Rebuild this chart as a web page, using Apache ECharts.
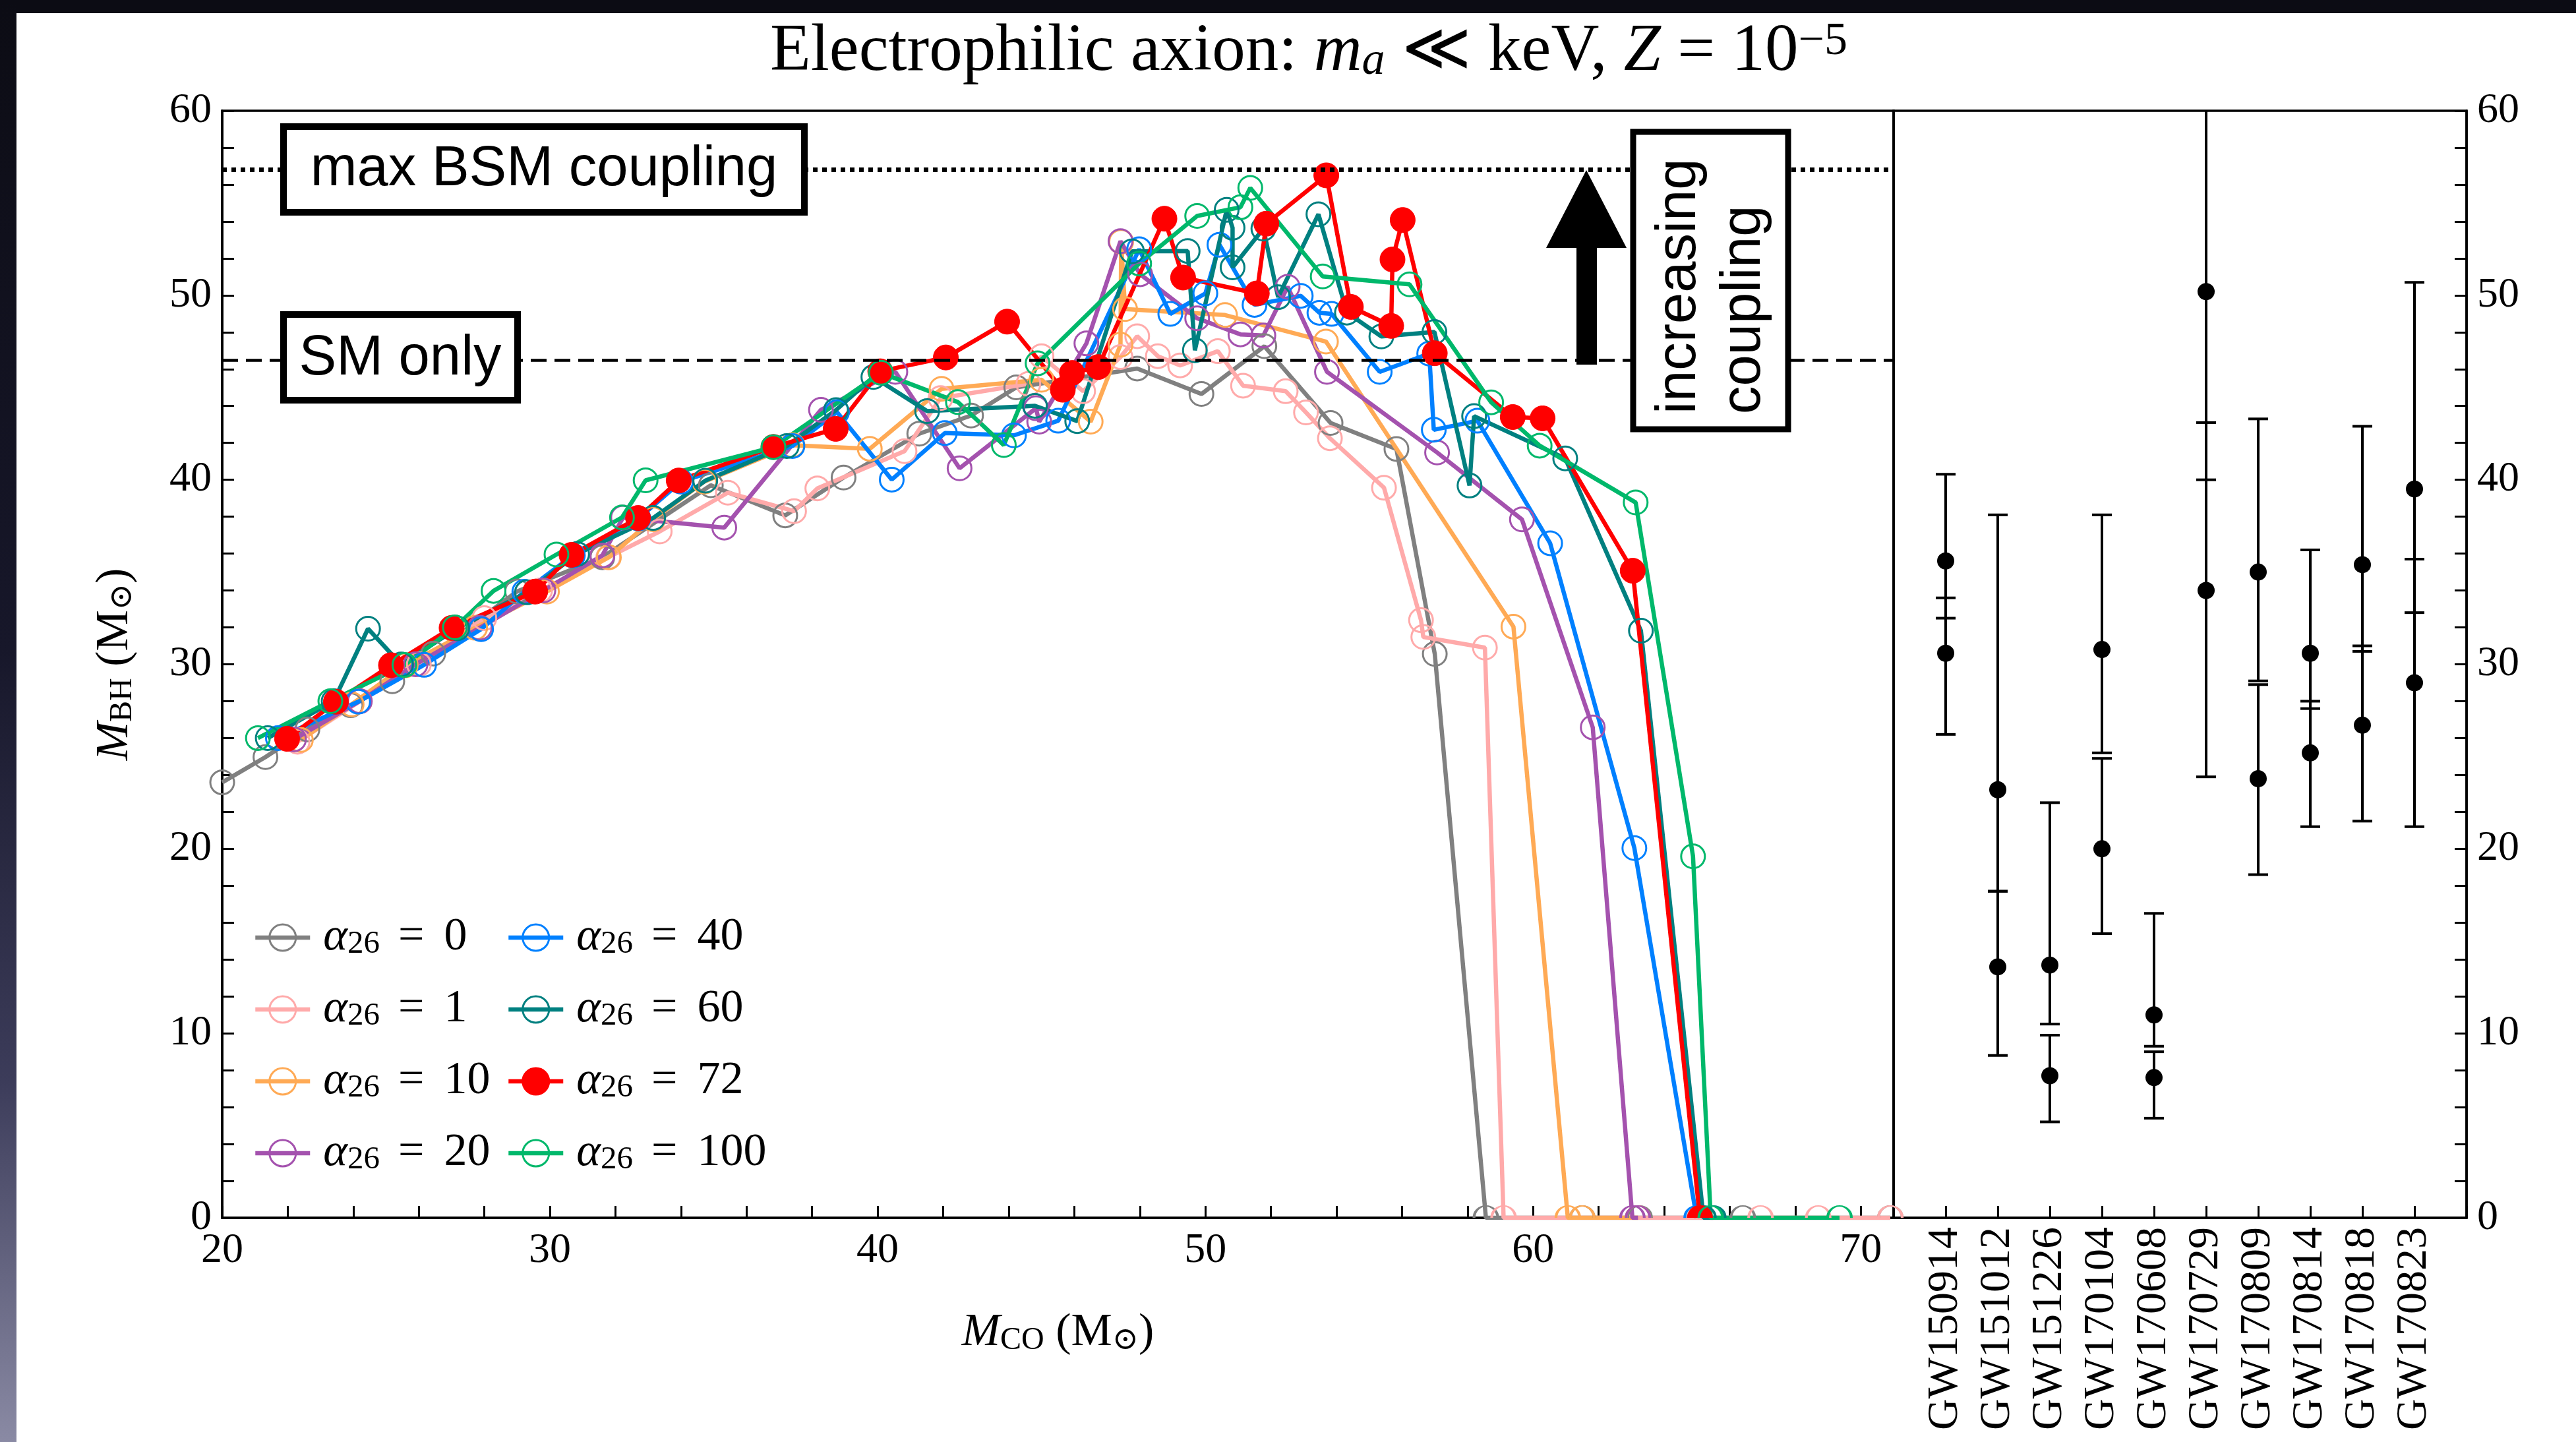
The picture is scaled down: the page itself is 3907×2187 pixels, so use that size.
<!DOCTYPE html>
<html>
<head>
<meta charset="utf-8">
<title>Electrophilic axion: black-hole mass gap</title>
<script src="https://cdn.jsdelivr.net/npm/echarts/dist/echarts.min.js"></script>
<style>
  html, body { margin: 0; padding: 0; background: #ffffff; overflow: hidden; }
  #chart { position: absolute; left: 0; top: 0; width: 3907px; height: 2187px; background: #ffffff; }
  #frameTop { position: absolute; left: 0; top: 0; width: 3907px; height: 20px; background: #0c0c14; z-index: 10; }
  #frameLeft { position: absolute; left: 0; top: 0; width: 25px; height: 2187px; z-index: 10;
    background: linear-gradient(to bottom, #0c0c14 0%, #17172a 45%, #3c3c5a 75%, #8a8aa4 100%); }
</style>
</head>
<body>
<div id="chart"></div>
<div id="frameTop"></div>
<div id="frameLeft"></div>
<script>
const SERIF = "'Liberation Serif', 'DejaVu Serif', serif";
const SANS = "'Liberation Sans', 'DejaVu Sans', sans-serif";

// M_BH against M_CO (both in solar masses), one curve per coupling alpha_26
const alpha0 = [[20.0,23.6],[21.32,24.97],[22.6,26.47],[23.92,27.78],[25.19,29.08],[26.44,30.58],[29.0,33.95],[31.6,35.8],[34.91,39.7],[37.18,38.07],[38.96,40.12],[41.27,42.5],[42.85,43.48],[44.23,45.01],[47.92,46.03],[49.88,44.65],[51.8,47.24],[53.82,43.08],[55.83,41.67],[57.0,30.56],[58.56,0],[61.5,0],[63.25,0],[66.4,0],[70.9,0]];
const alpha1 = [[22.3,25.8],[24.2,28.0],[26.0,30.0],[28.0,32.5],[29.7,34.0],[31.78,35.8],[33.35,37.2],[35.43,39.3],[37.45,38.3],[38.16,39.53],[40.82,41.55],[41.92,44.43],[44.6,45.2],[45.0,46.7],[46.27,44.8],[47.41,46.65],[47.92,47.78],[48.55,46.7],[49.23,46.2],[50.38,46.97],[51.15,45.1],[52.45,44.8],[53.07,43.65],[53.8,42.25],[55.45,39.57],[56.58,32.39],[56.65,31.48],[58.53,30.9],[59.1,0],[66.94,0],[68.7,0],[70.9,0]];
const alpha10 = [[22.4,25.9],[23.95,27.83],[25.6,29.95],[27.72,31.98],[29.91,33.94],[31.8,35.8],[33.15,37.86],[34.71,39.9],[37.4,41.87],[39.76,41.68],[41.95,44.93],[45.0,45.42],[46.5,43.15],[47.41,47.32],[47.43,52.9],[47.55,49.25],[50.6,48.93],[53.68,47.49],[59.4,32.04],[61.06,0],[61.5,0],[63.2,0]];
const alpha20 = [[22.19,25.93],[24.2,28.0],[25.9,30.0],[27.86,31.98],[29.8,34.0],[31.6,35.9],[32.23,37.95],[35.32,37.41],[38.27,43.79],[40.54,45.85],[42.5,40.62],[44.83,43.88],[44.93,43.15],[46.37,47.39],[47.41,52.93],[48.01,51.14],[49.75,48.75],[51.07,47.88],[51.77,47.82],[52.51,50.46],[53.71,45.85],[57.07,41.48],[59.66,37.85],[61.82,26.58],[63.03,0],[63.2,0]];
const alpha40 = [[21.7,26.0],[24.15,27.97],[26.16,29.97],[27.9,31.9],[29.22,33.93],[30.7,35.9],[32.7,37.9],[34.0,39.9],[37.4,41.83],[38.76,43.67],[40.43,40.01],[42.05,42.53],[44.16,42.41],[45.51,43.2],[47.98,52.5],[48.93,48.99],[50.0,50.1],[50.43,52.74],[51.5,49.48],[52.91,49.97],[53.48,49.05],[53.85,48.99],[55.32,45.85],[56.83,46.84],[56.97,42.71],[58.3,43.2],[60.52,36.56],[63.09,20.04],[64.99,0]];
const alpha60 = [[21.39,26.0],[23.4,28.0],[24.45,31.93],[25.46,29.99],[27.17,31.95],[29.3,33.9],[30.83,35.98],[33.15,37.93],[34.74,39.95],[37.23,41.83],[38.73,43.78],[39.87,45.57],[41.51,43.72],[44.8,44.01],[46.09,43.18],[47.76,52.38],[49.46,52.4],[49.68,47.02],[50.65,54.63],[50.83,53.66],[50.83,51.51],[51.77,53.61],[52.22,49.9],[53.45,54.39],[54.32,49.06],[55.37,47.77],[56.99,48.01],[58.06,39.69],[58.2,43.45],[60.98,41.16],[63.29,31.82],[65.2,0],[65.5,0]];
const alpha72 = [[21.98,25.96],[23.47,27.97],[25.15,29.95],[27.0,31.97],[29.55,33.94],[30.66,35.93],[32.69,37.93],[33.93,39.96],[36.82,41.78],[38.72,42.76],[40.08,45.88],[42.08,46.63],[43.95,48.57],[45.65,44.88],[45.93,45.79],[46.73,46.11],[48.75,54.15],[49.32,50.96],[51.57,50.1],[51.86,53.88],[53.69,56.5],[54.44,49.37],[55.67,48.34],[55.71,51.94],[56.02,54.08],[57.0,46.86],[59.38,43.4],[60.29,43.33],[63.04,35.07],[65.09,0]];
const alpha100 = [[21.09,26.0],[23.3,28.0],[25.56,29.96],[27.1,32.0],[28.28,33.98],[30.2,35.95],[32.2,37.96],[32.92,39.97],[36.82,41.77],[40.1,45.8],[42.45,44.21],[43.85,41.88],[44.88,46.31],[47.98,51.72],[49.75,54.3],[51.07,54.77],[51.37,55.82],[53.58,51.02],[56.23,50.59],[58.72,44.2],[60.2,41.85],[63.13,38.77],[64.88,19.59],[65.42,0],[69.35,0]];

const couplingValues = ['0', '1', '10', '20', '40', '60', '72', '100'];
const curveColors = ['#808080', '#ffaaaa', '#ffaa55', '#a452ae', '#0080ff', '#008080', '#ff0000', '#00b86b'];

// Reference masses (horizontal guides)
const smOnlyMass = 46.5;
const maxBsmMass = 56.8;

// GWTC-1 binary components: median with upper / lower 90% offsets
const events = ['GW150914', 'GW151012', 'GW151226', 'GW170104', 'GW170608', 'GW170729', 'GW170809', 'GW170814', 'GW170818', 'GW170823'];
const m1 = [35.6, 23.2, 13.7, 30.8, 11.0, 50.2, 35.0, 30.6, 35.4, 39.5];
const m1Up = [4.7, 14.9, 8.8, 7.3, 5.5, 16.2, 8.3, 5.6, 7.5, 11.2];
const m1Lo = [3.1, 5.5, 3.2, 5.6, 1.7, 10.2, 5.9, 3.0, 4.7, 6.7];
const m2 = [30.6, 13.6, 7.7, 20.0, 7.6, 34.0, 23.8, 25.2, 26.7, 29.0];
const m2Up = [3.0, 4.1, 2.2, 4.9, 1.4, 9.1, 5.1, 2.8, 4.3, 6.7];
const m2Lo = [4.4, 4.8, 2.5, 4.6, 2.2, 10.1, 5.2, 4.0, 5.2, 7.8];

// Tick labels
const massTickLabels = [0, 10, 20, 30, 40, 50, 60];
const coTickLabels = [20, 30, 40, 50, 60, 70];

const Y_MAX = 60;
const curves = [alpha0, alpha1, alpha10, alpha20, alpha40, alpha60, alpha72, alpha100];
const seriesNames = couplingValues.map(v => 'α26 = ' + v);

// markers that sit on the lower frame are cut in half by it
const HALF_DISC = 'path://M0,10 A10,10 0 0 1 20,10';

function curveSeries(k) {
  const color = curveColors[k];
  const filled = k === 6;
  const size = filled ? 38 : 36;
  const pts = curves[k].map(p => p[1] === 0
    ? { value: p, symbol: HALF_DISC, symbolSize: [size, size / 2], symbolOffset: [0, -size / 4] }
    : p);
  const s = {
    name: seriesNames[k],
    type: 'line', xAxisIndex: 0, yAxisIndex: 0,
    data: pts,
    symbol: 'circle', symbolSize: size, showAllSymbol: true,
    lineStyle: { color: color, width: 6.5 },
    itemStyle: filled
      ? { color: color, borderColor: color, borderWidth: 1 }
      : { color: 'rgba(255,255,255,0)', borderColor: color, borderWidth: 3 },
    emphasis: { disabled: true },
    silent: true, clip: true, animation: false
  };
  if (k === 0) {
    s.markLine = {
      silent: true, symbol: ['none', 'none'], label: { show: false }, animation: false,
      emphasis: { disabled: true },
      data: [
        { yAxis: maxBsmMass, lineStyle: { color: '#000', width: 7, type: [7, 7] } },
        { yAxis: smOnlyMass, lineStyle: { color: '#000', width: 4.5, type: [24, 12] } }
      ]
    };
  }
  return s;
}

const errorRows = [];
events.forEach((ev, k) => {
  errorRows.push([k + 1, m1[k], m1[k] - m1Lo[k], m1[k] + m1Up[k]]);
  errorRows.push([k + 1, m2[k], m2[k] - m2Lo[k], m2[k] + m2Up[k]]);
});

function renderErrorBar(params, api) {
  const x = api.value(0), c = api.value(1), lo = api.value(2), hi = api.value(3);
  const pLo = api.coord([x, lo]);
  const pHi = api.coord([x, Math.min(hi, Y_MAX)]);
  const pC = api.coord([x, c]);
  const st = { stroke: '#000', lineWidth: 4 };
  const kids = [
    { type: 'line', shape: { x1: pLo[0], y1: pLo[1], x2: pHi[0], y2: pHi[1] }, style: st },
    { type: 'line', shape: { x1: pLo[0] - 15, y1: pLo[1], x2: pLo[0] + 15, y2: pLo[1] }, style: st }
  ];
  if (hi <= Y_MAX) {
    kids.push({ type: 'line', shape: { x1: pHi[0] - 15, y1: pHi[1], x2: pHi[0] + 15, y2: pHi[1] }, style: st });
  }
  kids.push({ type: 'circle', shape: { cx: pC[0], cy: pC[1], r: 13 }, style: { fill: '#000' } });
  return { type: 'group', children: kids };
}

const axisLineStyle = { color: '#000', width: 3.5 };
const tickStyle = { show: true, inside: true, length: 18, lineStyle: { color: '#000', width: 3 } };

const nameRich = {
  i: { fontFamily: SERIF, fontStyle: 'italic', fontWeight: 'normal', fontSize: 70, lineHeight: 70, color: '#000' },
  n: { fontFamily: SERIF, fontWeight: 'normal', fontSize: 70, lineHeight: 70, color: '#000' },
  s: { fontFamily: SERIF, fontWeight: 'normal', fontSize: 48, lineHeight: 36, verticalAlign: 'bottom', color: '#000' }
};

const legendRich = {
  a: { fontFamily: SERIF, fontStyle: 'italic', fontSize: 70, lineHeight: 70, color: '#000', padding: [0, 0, 0, 15] },
  s: { fontFamily: SERIF, fontSize: 49, lineHeight: 36, verticalAlign: 'bottom', color: '#000' },
  e: { fontFamily: SERIF, fontSize: 70, lineHeight: 70, color: '#000', padding: [0, 30, 0, 28] },
  n: { fontFamily: SERIF, fontSize: 70, lineHeight: 70, color: '#000' }
};
function legendLabel(name) {
  return '{a|α}{s|26}{e|=}{n|' + name.split('= ')[1] + '}';
}
function legendBlock(names, left) {
  return {
    data: names, left: left, top: 1387, orient: 'vertical', padding: 0,
    itemWidth: 83, itemHeight: 50, itemGap: 39, selectedMode: false,
    lineStyle: { width: 6.5 }, itemStyle: { borderWidth: 3 },
    formatter: legendLabel,
    textStyle: { fontFamily: SERIF, fontSize: 70, color: '#000', rich: legendRich }
  };
}

const chart = echarts.init(document.getElementById('chart'), null, { renderer: 'canvas' });

const titleRich = {
  t: { fontFamily: SERIF, fontWeight: 'normal', fontSize: 101, lineHeight: 100, color: '#000' },
  i: { fontFamily: SERIF, fontStyle: 'italic', fontWeight: 'normal', fontSize: 101, lineHeight: 100, color: '#000' },
  s: { fontFamily: SERIF, fontStyle: 'italic', fontWeight: 'normal', fontSize: 70, lineHeight: 50, verticalAlign: 'bottom', color: '#000' },
  p: { fontFamily: SERIF, fontWeight: 'normal', fontSize: 70, lineHeight: 50, verticalAlign: 'top', color: '#000' }
};

const option = {
  backgroundColor: '#ffffff',
  animation: false,
  title: {
    text: '{t|Electrophilic axion: }{i|m}{s|a}{t| ≪ keV, }{i|Z}{t| = 10}{p|−5}',
    left: 1985, top: 29, textAlign: 'center', padding: 0,
    textStyle: { fontFamily: SERIF, fontWeight: 'normal', fontSize: 101, color: '#000', rich: titleRich }
  },
  grid: [
    { left: 337, top: 168, width: 2535, height: 1679, show: true, borderColor: '#000', borderWidth: 3.5,
      backgroundColor: 'rgba(0,0,0,0)', containLabel: false, outerBoundsMode: 'none' },
    { left: 2872, top: 168, width: 869, height: 1679, show: true, borderColor: '#000', borderWidth: 3.5,
      backgroundColor: 'rgba(0,0,0,0)', containLabel: false, outerBoundsMode: 'none' }
  ],
  xAxis: [
    {
      type: 'value', gridIndex: 0, min: 20, max: 71, interval: 2,
      axisLine: { show: true, onZero: false, lineStyle: axisLineStyle },
      axisTick: tickStyle,
      axisLabel: { show: true, margin: 18, fontFamily: SERIF, fontSize: 64, color: '#000',
        formatter: v => coTickLabels.includes(v) ? String(v) : '' },
      splitLine: { show: false },
      name: '{i|M}{s|CO}{n| (M}{s|⊙}{n|)}', nameLocation: 'middle', nameGap: 140,
      nameTextStyle: { fontWeight: 'normal', rich: nameRich }
    },
    {
      type: 'value', gridIndex: 1, min: 0, max: 11, interval: 1,
      axisLine: { show: true, onZero: false, lineStyle: axisLineStyle },
      axisTick: tickStyle,
      axisLabel: { show: true, margin: 14, rotate: 90, fontFamily: SERIF, fontSize: 66, color: '#000',
        formatter: v => (v >= 1 && v <= events.length) ? events[v - 1] : '' },
      splitLine: { show: false }
    }
  ],
  yAxis: [
    {
      type: 'value', gridIndex: 0, position: 'left', min: 0, max: 60, interval: 2,
      axisLine: { show: true, onZero: false, lineStyle: axisLineStyle },
      axisTick: tickStyle,
      axisLabel: { show: true, margin: 16, fontFamily: SERIF, fontSize: 64, color: '#000',
        formatter: v => massTickLabels.includes(v) ? String(v) : '' },
      splitLine: { show: false },
      name: '{i|M}{s|BH}{n| (M}{s|⊙}{n|)}', nameLocation: 'middle', nameGap: 127, nameRotate: 90,
      nameTextStyle: { fontWeight: 'normal', rich: nameRich }
    },
    {
      type: 'value', gridIndex: 1, position: 'right', min: 0, max: 60, interval: 2,
      axisLine: { show: true, onZero: false, lineStyle: axisLineStyle },
      axisTick: tickStyle,
      axisLabel: { show: true, margin: 16, fontFamily: SERIF, fontSize: 64, color: '#000',
        formatter: v => massTickLabels.includes(v) ? String(v) : '' },
      splitLine: { show: false }
    }
  ],
  legend: [legendBlock(seriesNames.slice(0, 4), 384), legendBlock(seriesNames.slice(4), 768)],
  series: curves.map((c, k) => curveSeries(k)).concat([{
    type: 'custom', name: 'GWTC-1', xAxisIndex: 1, yAxisIndex: 1,
    data: errorRows, encode: { x: 0, y: 1 }, renderItem: renderErrorBar,
    silent: true, clip: true, animation: false
  }]),
  graphic: [
    { type: 'rect', z: 100, shape: { x: 430, y: 192, width: 790, height: 130 },
      style: { fill: '#fff', stroke: '#000', lineWidth: 10 } },
    { type: 'text', z: 101, x: 825, y: 258,
      style: { text: 'max BSM coupling', fontFamily: SANS, fontSize: 85, fill: '#000',
        align: 'center', verticalAlign: 'middle', textAlign: 'center', textVerticalAlign: 'middle' } },
    { type: 'rect', z: 100, shape: { x: 430, y: 477, width: 355, height: 130 },
      style: { fill: '#fff', stroke: '#000', lineWidth: 10 } },
    { type: 'text', z: 101, x: 607, y: 545,
      style: { text: 'SM only', fontFamily: SANS, fontSize: 85, fill: '#000',
        align: 'center', verticalAlign: 'middle', textAlign: 'center', textVerticalAlign: 'middle' } },
    { type: 'polygon', z: 100,
      shape: { points: [[2406, 258], [2467, 376], [2422, 376], [2422, 553], [2391, 553], [2391, 376], [2345, 376]] },
      style: { fill: '#000' } },
    { type: 'rect', z: 100, shape: { x: 2477, y: 200, width: 235, height: 451 },
      style: { fill: '#fff', stroke: '#000', lineWidth: 9 } },
    { type: 'text', z: 101, x: 2548, y: 628, rotation: Math.PI / 2,
      style: { text: 'increasing', fontFamily: SANS, fontSize: 85, fill: '#000',
        align: 'left', verticalAlign: 'middle', textAlign: 'left', textVerticalAlign: 'middle' } },
    { type: 'text', z: 101, x: 2646, y: 628, rotation: Math.PI / 2,
      style: { text: 'coupling', fontFamily: SANS, fontSize: 85, fill: '#000',
        align: 'left', verticalAlign: 'middle', textAlign: 'left', textVerticalAlign: 'middle' } }
  ]
};

chart.setOption(option);
</script>
</body>
</html>
